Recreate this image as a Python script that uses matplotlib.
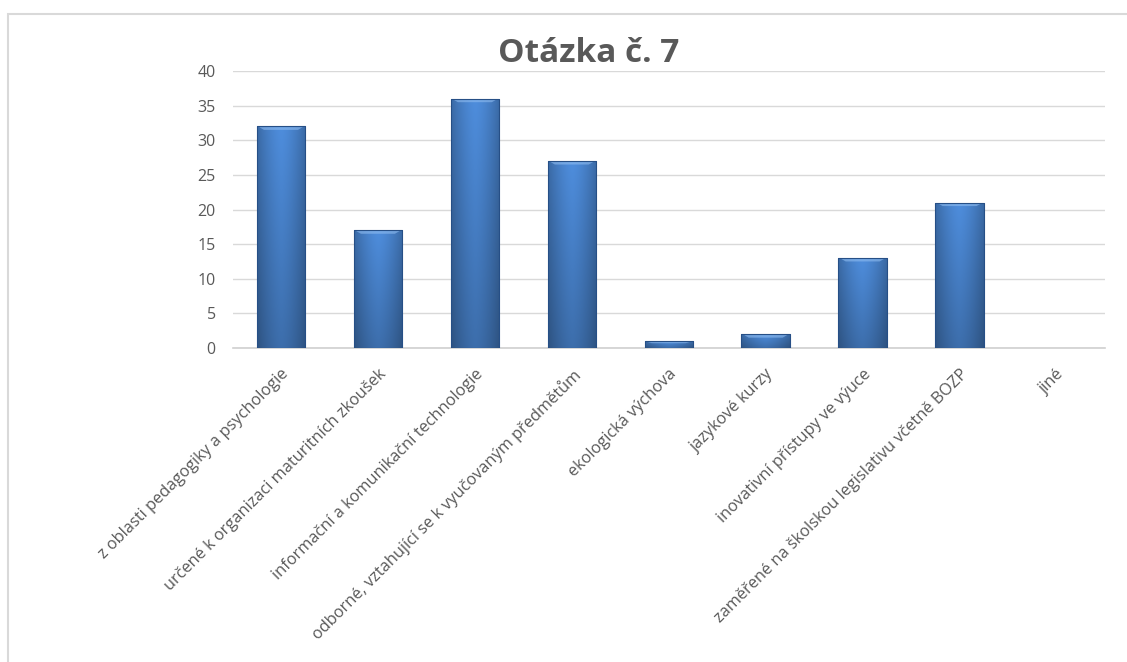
import matplotlib.pyplot as plt
import matplotlib.patches as mpatches
import numpy as np

plt.rcParams['font.family'] = ['Open Sans', 'DejaVu Sans']

kategorie = [
    "z oblasti pedagogiky a psychologie",
    "určené k organizaci maturitních zkoušek",
    "informační a komunikační technologie",
    "odborné, vztahující se k vyučovaným předmětům",
    "ekologická výchova",
    "jazykové kurzy",
    "inovativní přístupy ve výuce",
    "zaměřené na školskou legislativu včetně BOZP",
    "jiné",
]
pocty = [32, 17, 36, 27, 1, 2, 13, 21, 0]
yticks = [0, 5, 10, 15, 20, 25, 30, 35, 40]

seda = '#595959'

fig = plt.figure(figsize=(11.27, 6.62), dpi=100)

# ramecek grafu (jen levy a horni okraj je videt)
fig.patches.append(mpatches.Rectangle((8 / 1127, -0.1), 1.2, 1 - 14 / 662 + 0.1,
                                      transform=fig.transFigure, fill=False,
                                      edgecolor='#d9d9d9', linewidth=1.5))

ax = fig.add_axes([0.2063, 0.4743, 0.7742, 0.4184])

x = np.arange(len(kategorie))
bars = ax.bar(x, pocty, width=0.5, color='#3a72c0', edgecolor='#2a5590',
              linewidth=0.6, zorder=2)

# prechod barvy v sloupcich
h = np.linspace(0, 1, 60)
v = np.linspace(0, 1, 120)
horiz = 1 - 0.35 * np.abs(h - 0.5) ** 1.5 * 2
vert = 0.78 + 0.22 * v
shade = np.outer(vert, horiz)
top = np.array([0x4e, 0x8d, 0xdc]) / 255
img = np.clip(shade[..., None] * top[None, None, :], 0, 1)
for b in bars:
    hgt = b.get_height()
    if hgt <= 0:
        continue
    x0 = b.get_x()
    w = b.get_width()
    im = ax.imshow(img, extent=[x0, x0 + w, 0, hgt], origin='lower',
                   aspect='auto', zorder=3, interpolation='bilinear')
    im.set_clip_path(b)
    # svetly okraj nahore (zkoseni)
    bev = min(0.5, hgt * 0.3)
    ax.fill([x0 + w * 0.05, x0 + w * 0.95, x0 + w * 0.85, x0 + w * 0.15],
            [hgt - 0.1, hgt - 0.1, hgt - bev, hgt - bev],
            color='#8fbcf0', alpha=0.6, zorder=4, linewidth=0)
    ax.add_patch(mpatches.Rectangle((x0, 0), w, hgt, fill=False,
                                    edgecolor='#264f86', linewidth=0.8, zorder=5))

ax.set_xlim(-0.5, len(kategorie) - 0.5)
ax.set_ylim(0, 40)
ax.set_yticks(yticks)
ax.yaxis.grid(True, color='#d9d9d9', linewidth=1, zorder=0)
ax.set_axisbelow(True)
for s in ['top', 'right', 'left']:
    ax.spines[s].set_visible(False)
ax.spines['bottom'].set_color('#d0d0d0')
ax.spines['bottom'].set_linewidth(1.2)
ax.tick_params(axis='y', length=0, labelsize=11.5, labelcolor=seda, pad=12)
ax.tick_params(axis='x', length=0, labelsize=11.8, labelcolor=seda, pad=13)
ax.set_xticks(x)
ax.set_xticklabels(kategorie, rotation=45, ha='right', rotation_mode='anchor')

fig.text(589 / 1127, 1 - 54 / 662, "Otázka č. 7", ha='center', va='center',
         fontsize=24, fontweight='bold', color=seda)

fig.savefig('out.png', dpi=100)
